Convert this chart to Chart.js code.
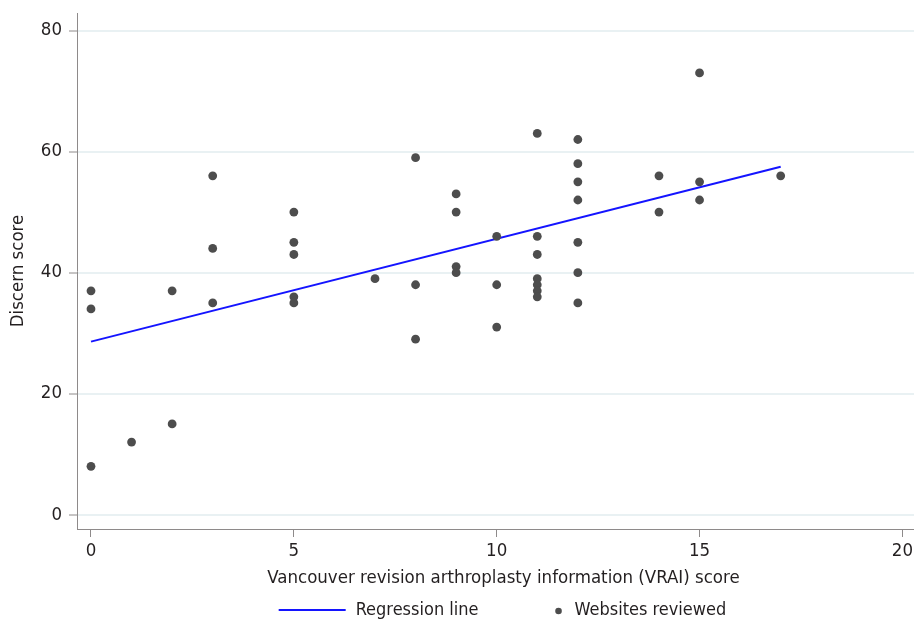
<!DOCTYPE html>
<html>
<head>
<meta charset="utf-8">
<script src="https://cdn.jsdelivr.net/npm/chart.js@4/dist/chart.umd.min.js"></script>
<style>
  html, body { margin: 0; padding: 0; background: #ffffff; overflow: hidden; }
  #wrap { width: 914px; height: 619px; position: relative; overflow: hidden; }
  canvas { display: block; }
</style>
</head>
<body>
<div id="wrap"><canvas id="c" width="930" height="619"></canvas></div>
<script>
// ---- Data ----
const vraiScores = [0,0,0,1,2,2,3,3,3,5,5,5,5,5,7,8,8,8,9,9,9,9,10,10,10,11,11,11,11,11,11,11,12,12,12,12,12,12,12,14,14,15,15,15,17];
const discernScores = [37,34,8,12,37,15,56,44,35,50,45,43,36,35,39,59,38,29,53,50,41,40,46,38,31,63,46,43,39,38,37,36,62,58,55,52,45,40,35,56,50,73,55,52,56];
const regressionX = [0, 17];
const regressionY = [28.6, 57.5];
const xTickValues = [0, 5, 10, 15, 20];
const yTickValues = [0, 20, 40, 60, 80];
const xTitle = 'Vancouver revision arthroplasty information (VRAI) score';
const yTitle = 'Discern score';
const seriesLabels = ['Regression line', 'Websites reviewed'];

// ---- Styling ----
const FONT = "'DejaVu Sans Condensed', 'DejaVu Sans', sans-serif";
const FS = 18.5;
const LEGEND_FS = 18;
const TEXT = '#231f20';
const AXIS = '#8e8a8a';
const GRID = '#e9f1f3';
const BLUE = '#1414ff';
const DOT = '#4d4d4d';

// Legend drawn below the axis title, centred under the plot region
const legendPlugin = {
  id: 'bottomLegend',
  afterDraw(chart) {
    const ctx = chart.ctx;
    const line = chart.data.datasets.find(d => d.type === 'line');
    const pts = chart.data.datasets.find(d => d.type === 'scatter');
    const y = chart.height - 9;
    ctx.save();
    ctx.font = LEGEND_FS + 'px ' + FONT;
    ctx.textBaseline = 'middle';
    ctx.fillStyle = TEXT;
    const w1 = ctx.measureText(line.label).width;
    const w2 = ctx.measureText(pts.label).width;
    const sample = 67, gapText = 10, gapItems = 80, dotGap = 16;
    const total = sample + gapText + w1 + gapItems + dotGap + w2;
    const center = (chart.chartArea.left + chart.chartArea.right) / 2 - 1;
    let x = center - total / 2;
    ctx.strokeStyle = line.borderColor;
    ctx.lineWidth = 2;
    ctx.beginPath();
    ctx.moveTo(x, y); ctx.lineTo(x + sample, y); ctx.stroke();
    x += sample + gapText;
    ctx.fillText(line.label, x, y);
    x += w1 + gapItems;
    ctx.fillStyle = pts.backgroundColor;
    ctx.beginPath(); ctx.arc(x, y + 1, 3.3, 0, Math.PI * 2); ctx.fill();
    x += dotGap;
    ctx.fillStyle = TEXT;
    ctx.fillText(pts.label, x, y);
    ctx.restore();
  }
};

new Chart(document.getElementById('c'), {
  data: {
    datasets: [
      {
        type: 'scatter',
        label: seriesLabels[1],
        data: vraiScores.map((x, i) => ({ x: x, y: discernScores[i] })),
        backgroundColor: DOT,
        borderColor: DOT,
        pointRadius: 4.4,
        pointBorderWidth: 0,
        order: 0
      },
      {
        type: 'line',
        label: seriesLabels[0],
        data: regressionX.map((x, i) => ({ x: x, y: regressionY[i] })),
        borderColor: BLUE,
        borderWidth: 2,
        pointRadius: 0,
        fill: false,
        order: 1
      }
    ]
  },
  options: {
    responsive: false,
    animation: false,
    events: [],
    layout: { autoPadding: false, padding: { top: 13, right: 0, bottom: 27, left: 0 } },
    plugins: { legend: { display: false }, tooltip: { enabled: false } },
    scales: {
      x: {
        type: 'linear',
        min: -0.345,
        max: 20.68,
        afterBuildTicks: s => { s.ticks = xTickValues.map(v => ({ value: v })); },
        afterFit: s => { s.height = 63; s.paddingLeft = 0; s.paddingRight = 0; },
        ticks: { color: TEXT, font: { family: FONT, size: FS }, padding: 3, maxRotation: 0 },
        grid: { drawOnChartArea: false, drawTicks: true, tickLength: 8, tickColor: AXIS, color: AXIS },
        border: { display: true, color: AXIS, width: 1 },
        title: { display: true, text: xTitle, color: TEXT, font: { family: FONT, size: FS }, padding: { top: 0, bottom: 3 } }
      },
      y: {
        type: 'linear',
        min: -2.36,
        max: 82.9,
        afterBuildTicks: s => { s.ticks = yTickValues.map(v => ({ value: v })); },
        afterFit: s => { s.width = 77; s.paddingTop = 0; s.paddingBottom = 0; },
        ticks: { color: TEXT, font: { family: FONT, size: FS }, padding: 7 },
        grid: { color: GRID, lineWidth: 2, drawTicks: true, tickLength: 8, tickColor: AXIS, tickWidth: 1 },
        border: { display: true, color: AXIS, width: 1 },
        title: { display: true, text: yTitle, color: TEXT, font: { family: FONT, size: FS }, padding: { top: 7, bottom: 0 } }
      }
    }
  },
  plugins: [legendPlugin]
});
</script>
</body>
</html>
